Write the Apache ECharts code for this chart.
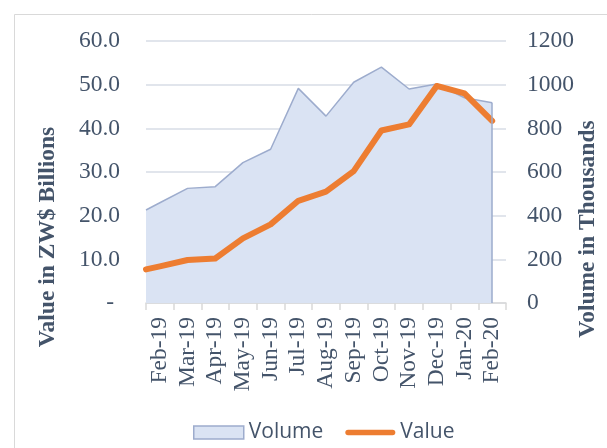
<!DOCTYPE html>
<html>
<head>
<meta charset="utf-8">
<script src="https://cdn.jsdelivr.net/npm/echarts@6/dist/echarts.min.js"></script>
<style>
  html, body { margin: 0; padding: 0; background: #fff; }
  #chart { width: 607px; height: 448px; }
</style>
</head>
<body>
<div id="chart"></div>
<script>
// data
var months = ['Feb-19', 'Mar-19', 'Apr-19', 'May-19', 'Jun-19', 'Jul-19', 'Aug-19',
              'Sep-19', 'Oct-19', 'Nov-19', 'Dec-19', 'Jan-20', 'Feb-20'];
var volume = [459, 525, 533, 643, 704, 983, 856, 1011, 1080, 980, 1003, 940, 917]; // thousands
var value = [8.4, 9.85, 10.2, 14.8, 18.0, 23.4, 25.5, 30.2, 39.5, 40.9, 49.7, 48.0, 41.7]; // ZW$ bn
// the lines start at the left edge of the plot, not at the first category
var volumeAtEdge = 426;
var valueAtEdge = 7.7;
var valueTicks = [0, 10, 20, 30, 40, 50, 60];
var volumeTicks = [0, 200, 400, 600, 800, 1000, 1200];

var textColor = '#44546A';
var serif = 'Liberation Serif';

function withEdge(edge, arr) {
    var out = [[-0.5, edge]];
    for (var i = 0; i < arr.length; i++) {
        out.push([i, arr[i]]);
    }
    return out;
}

var last = volume.length - 1;
var chart = echarts.init(document.getElementById('chart'));

chart.setOption({
    animation: false,
    backgroundColor: '#fff',
    grid: { left: 146, right: 101, top: 41, bottom: 145 },
    legend: {
        left: 188,
        top: 417,
        itemWidth: 50,
        itemHeight: 13,
        itemGap: 22,
        textStyle: { fontFamily: 'Open Sans', fontSize: 21, color: textColor },
        data: [{
            name: 'Volume',
            icon: 'rect',
            itemStyle: { color: '#dae3f3', borderColor: '#9daccd', borderWidth: 1.5 }
        }, {
            name: 'Value',
            icon: 'path://M3,0 L51,0 A3,3 0 0 1 51,6 L3,6 A3,3 0 0 1 3,0 Z',
            itemStyle: { color: '#ED7D31' }
        }]
    },
    xAxis: [{
        type: 'category',
        data: months,
        boundaryGap: true,
        axisLine: { lineStyle: { color: '#d9d9d9', width: 1.5 } },
        axisTick: { show: true, length: 7, lineStyle: { color: '#d9d9d9', width: 1.5 } },
        axisLabel: {
            interval: 0,
            rotate: 90,
            margin: 14,
            fontFamily: serif,
            fontSize: 23.5,
            color: textColor
        }
    }, {
        type: 'value',
        min: -0.5,
        max: months.length - 0.5,
        show: false
    }],
    yAxis: [{
        type: 'value',
        position: 'left',
        min: valueTicks[0],
        max: valueTicks[valueTicks.length - 1],
        interval: 10,
        axisLine: { show: false },
        axisTick: { show: false },
        splitLine: { lineStyle: { color: '#e1e5ec', width: 2 } },
        axisLabel: {
            margin: 26,
            fontFamily: serif,
            fontSize: 23.5,
            color: textColor,
            formatter: function (v) { return v === 0 ? '- ' : v.toFixed(1); }
        }
    }, {
        type: 'value',
        position: 'right',
        min: volumeTicks[0],
        max: volumeTicks[volumeTicks.length - 1],
        interval: 200,
        axisLine: { show: false },
        axisTick: { show: false },
        splitLine: { show: false },
        axisLabel: {
            margin: 21,
            fontFamily: serif,
            fontSize: 23.5,
            color: textColor,
            formatter: function (v) { return String(v); }
        }
    }],
    series: [{
        name: 'Volume',
        type: 'line',
        xAxisIndex: 1,
        yAxisIndex: 1,
        data: withEdge(volumeAtEdge, volume),
        symbol: 'none',
        lineStyle: { color: '#9daccd', width: 1.5 },
        itemStyle: { color: '#dae3f3' },
        areaStyle: { color: '#dae3f3', opacity: 1 },
        markLine: {
            silent: true,
            symbol: 'none',
            label: { show: false },
            lineStyle: { color: '#9daccd', width: 1.5, type: 'solid' },
            data: [[{ coord: [last, 0] }, { coord: [last, volume[last]] }]]
        },
        z: 2
    }, {
        name: 'Value',
        type: 'line',
        xAxisIndex: 1,
        yAxisIndex: 0,
        data: withEdge(valueAtEdge, value),
        symbol: 'none',
        lineStyle: { color: '#ED7D31', width: 6, cap: 'round', join: 'round' },
        itemStyle: { color: '#ED7D31' },
        z: 3
    }],
    graphic: [{
        type: 'rect',
        left: 12,
        top: 12,
        shape: { width: 700, height: 500 },
        style: { fill: 'none', stroke: '#d9d9d9', lineWidth: 1 },
        silent: true
    }, {
        type: 'text',
        x: 48,
        y: 237,
        rotation: Math.PI / 2,
        style: {
            text: 'Value in ZW$ Billions',
            fontFamily: serif,
            fontWeight: 'bold',
            fontSize: 23.5,
            fill: textColor,
            align: 'center',
            verticalAlign: 'middle'
        }
    }, {
        type: 'text',
        x: 588,
        y: 229,
        rotation: Math.PI / 2,
        style: {
            text: 'Volume in Thousands',
            fontFamily: serif,
            fontWeight: 'bold',
            fontSize: 23.5,
            fill: textColor,
            align: 'center',
            verticalAlign: 'middle'
        }
    }]
});
</script>
</body>
</html>
